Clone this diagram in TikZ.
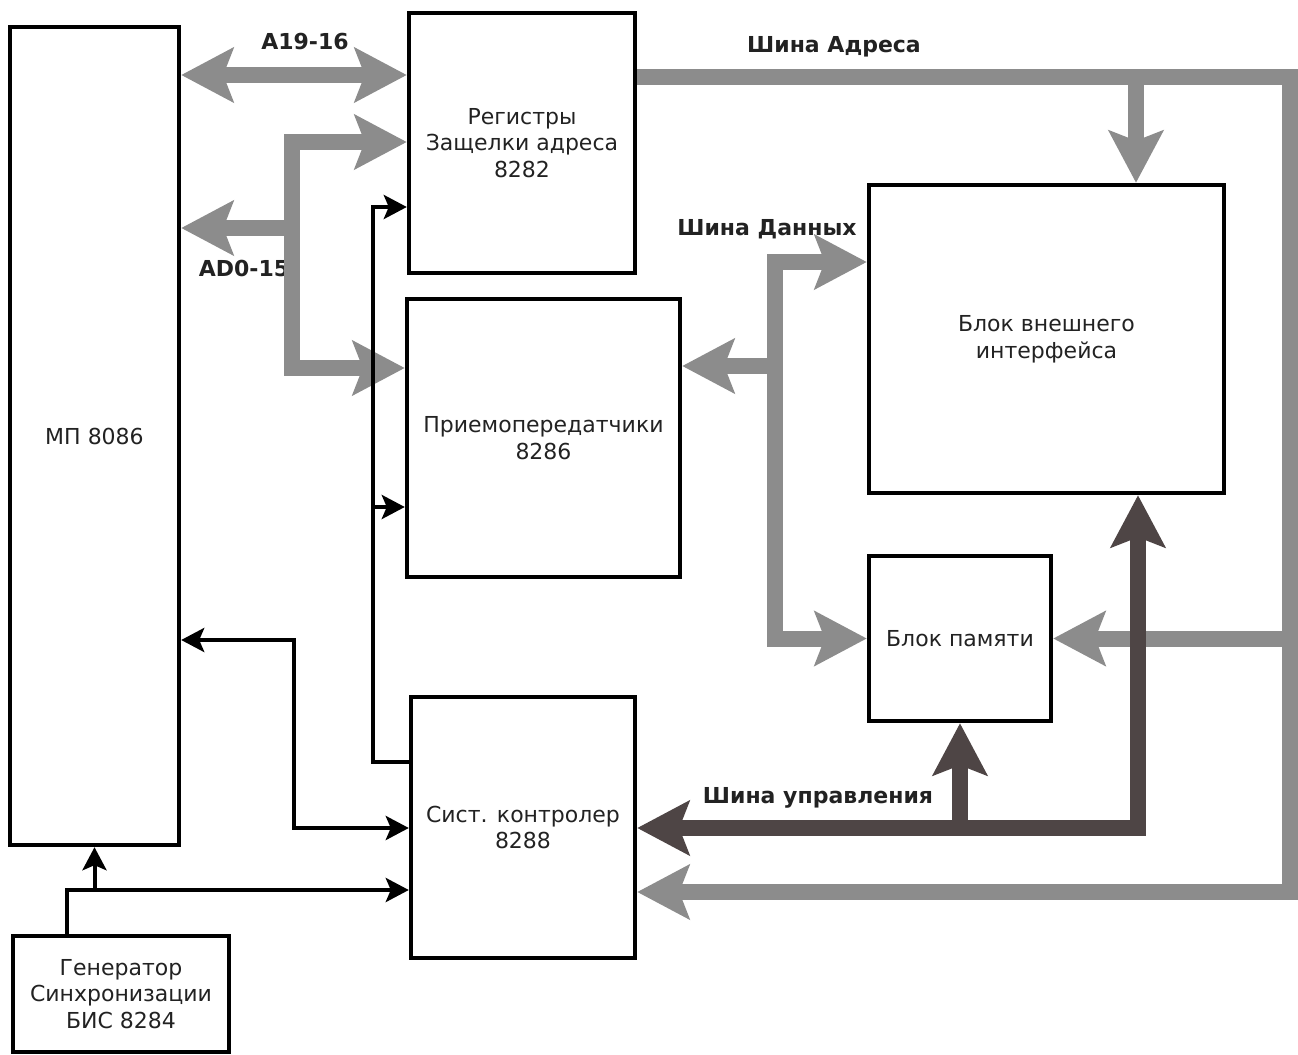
\documentclass[tikz,border=0pt]{standalone}
\usepackage{fontspec}
\setmainfont{DejaVu Sans}
\usetikzlibrary{arrows.meta}
\definecolor{busgray}{HTML}{8C8C8C}
\definecolor{busdark}{HTML}{4E4545}
\definecolor{txt}{HTML}{222222}
\tikzset{
  BT/.tip={Stealth[length=26pt,width=27pt,inset=5pt]},
  ST/.tip={Stealth[length=11.5pt,width=12pt,inset=2.5pt]},
}
\begin{document}
\begin{tikzpicture}[x=0.5pt,y=-0.5pt,
  blk/.style={draw=black, line width=2.2pt, rectangle, inner sep=0pt, align=center,
              font=\fontsize{11}{13.3}\selectfont, text=txt},
  lab/.style={inner sep=0pt, font=\bfseries\fontsize{11}{13.3}\selectfont, text=txt},
  gbus/.style={draw=busgray, line width=8pt},
  dbus/.style={draw=busdark, line width=8pt},
  bline/.style={draw=black, line width=2pt},
]
\useasboundingbox (0,0) rectangle (1298,1055);

% blocks
\node[blk, minimum width=84.5pt, minimum height=409pt] (mp) at (94.5,436) {МП 8086};
\node[blk, minimum width=113pt, minimum height=130pt] (reg) at (522,143) {Регистры\\Защелки адреса\\8282};
\node[blk, minimum width=136.5pt, minimum height=139pt] (trx) at (543.5,438) {Приемопередатчики\\8286};
\node[blk, minimum width=112pt, minimum height=130.5pt] (ctl) at (523,827.5) {Сист. контролер\\8288};
\node[blk, minimum width=177.5pt, minimum height=154pt] (ext) at (1046.5,339) {Блок внешнего\\интерфейса};
\node[blk, minimum width=91pt, minimum height=82.5pt] (mem) at (960,638.5) {Блок памяти};
\node[blk, minimum width=108pt, minimum height=58pt] (gen) at (121,994) {Генератор\\Синхронизации\\БИС 8284};

% labels
\node[lab] (lA) at (305,41) {A19-16};
\node[lab] (lAD) at (244,268) {AD0-15};
\node[lab] (lAB) at (834,47) {Шина Адреса};
\node[lab] (lDB) at (767,229) {Шина Данных};
\node[lab] (lCB) at (818,798) {Шина управления};

% helper coordinates
\coordinate (yA) at (0,75);
\coordinate (ad1) at (292,142);
\coordinate (ad2) at (292,368);
\coordinate (ad3) at (292,228);
\coordinate (ab1) at (0,77);
\coordinate (ab2) at (1290,77);
\coordinate (ab3) at (1290,892);
\coordinate (ab4) at (1136,77);
\coordinate (ab5) at (1290,638.5);
\coordinate (db1) at (775,262);
\coordinate (db2) at (775,638.5);
\coordinate (db3) at (775,366);
\coordinate (cb1) at (1138,828);
\coordinate (cb2) at (0,828);
\coordinate (k1) at (0,762);
\coordinate (k2) at (373,207);
\coordinate (k3) at (373,507);
\coordinate (m1) at (294,640);
\coordinate (m2) at (294,828);
\coordinate (g1) at (67,890);

% gray buses
\draw[gbus, {BT}-{BT}] (mp.east |- yA) -- (reg.west |- yA);
\draw[gbus, {BT}-{BT}] (reg.west |- ad1) -| (ad2) -- (trx.west |- ad2);
\draw[gbus, -{BT}] (ad3) -- (mp.east |- ad3);
\draw[gbus, -{BT}] (reg.east |- ab1) -- (ab2) -- (ab3) -- (ctl.east |- ab3);
\draw[gbus, -{BT}] (ab4) -- (ab4 |- ext.north);
\draw[gbus, -{BT}] (ab5) -- (mem.east);
\draw[gbus, {BT}-{BT}] (ext.west |- db1) -| (db2) -- (mem.west);
\draw[gbus, -{BT}] (db3) -- (trx.east |- db3);

% control bus
\draw[dbus, {BT}-{BT}] (ctl.east |- cb2) -| (cb1 |- ext.south);
\draw[dbus, -{BT}] (mem.south |- cb2) -- (mem.south);

% black lines
\draw[bline, -{ST}] (ctl.west |- k1) -| (k2) -- (reg.west |- k2);
\draw[bline, -{ST}] (k3) -- (trx.west |- k3);
\draw[bline, {ST}-{ST}] (mp.east |- m1) -| (m2) -- (ctl.west |- m2);
\draw[bline, -{ST}] (g1 |- gen.north) -- (g1) -- (ctl.west |- g1);
\draw[bline, -{ST}] (mp.south |- g1) -- (mp.south);
\end{tikzpicture}
\end{document}
